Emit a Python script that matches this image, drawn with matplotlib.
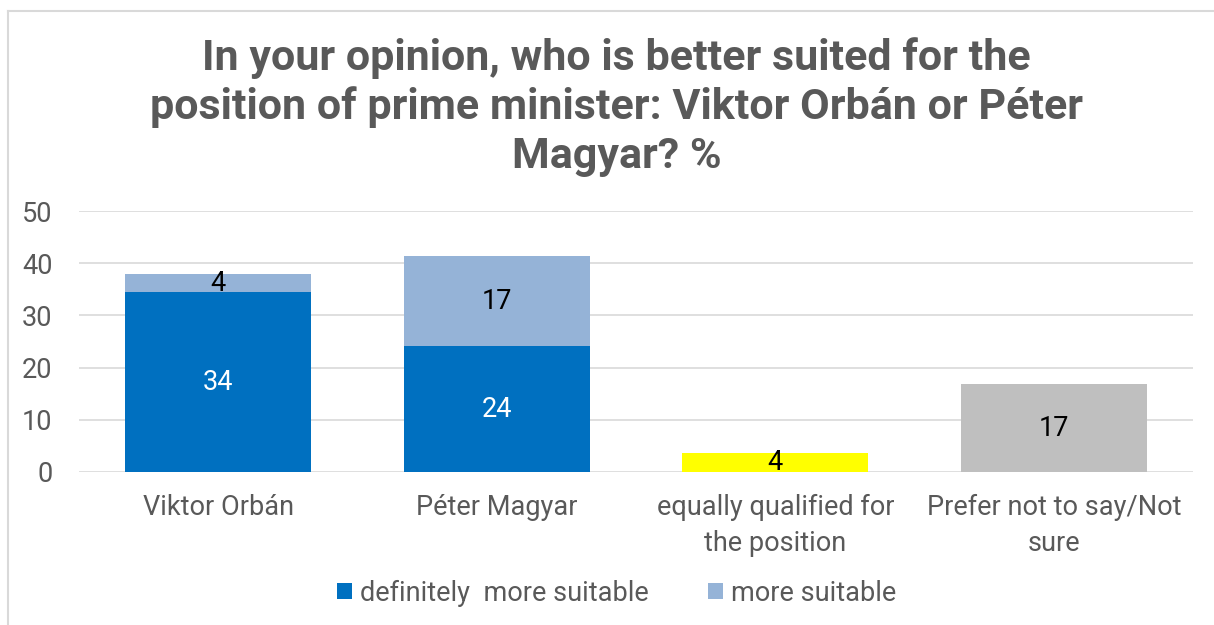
import matplotlib.pyplot as plt
from matplotlib.lines import Line2D
import numpy as np

categories = ["Viktor Orbán", "Péter Magyar",
              "equally qualified for\nthe position", "Prefer not to say/Not\nsure"]
definitely = [34.4, 24.1, 0, 0]
more = [3.6, 17.2, 0, 0]
other = [0, 0, 3.6, 16.8]
def_labels = ["34", "24", "", ""]
more_labels = ["4", "17", "", ""]
other_labels = ["", "", "4", "17"]
other_colors = ["none", "none", "#FFFF00", "#BFBFBF"]

title = "In your opinion, who is better suited for the\nposition of prime minister: Viktor Orbán or Péter\nMagyar? %"

plt.rcParams["font.family"] = ["Roboto", "DejaVu Sans"]
text_color = "#595959"
fs = 19.5

fig = plt.figure(figsize=(12.14, 6.25), dpi=100)
# chart frame: only top and left edges are visible in the picture
fig.lines.append(Line2D([8 / 1214, 8 / 1214], [0, 1 - 11 / 625], transform=fig.transFigure,
                        color="#D9D9D9", linewidth=1.5))
fig.lines.append(Line2D([8 / 1214, 1], [1 - 11 / 625, 1 - 11 / 625], transform=fig.transFigure,
                        color="#D9D9D9", linewidth=1.5))

ax = fig.add_axes([0.0651, 0.2448, 0.9176, 0.4176])

x = np.arange(len(categories))
w = 0.667
b1 = ax.bar(x, definitely, w, color="#0070C0", label="definitely  more suitable", zorder=3)
b2 = ax.bar(x, more, w, bottom=definitely, color="#95B3D7", label="more suitable", zorder=3)
b3 = ax.bar(x, other, w, color=other_colors, zorder=3)

for i in range(len(categories)):
    if def_labels[i]:
        ax.text(x[i], definitely[i] / 2, def_labels[i], ha="center", va="center",
                color="white", fontsize=fs, zorder=4)
    if more_labels[i]:
        ax.text(x[i], definitely[i] + more[i] / 2, more_labels[i], ha="center", va="center",
                color="black", fontsize=fs, zorder=4)
    if other_labels[i]:
        ax.text(x[i], other[i] / 2, other_labels[i], ha="center", va="center",
                color="black", fontsize=fs, zorder=4)

ax.set_xlim(-0.5, 3.5)
ax.set_ylim(0, 50)
ax.set_yticks([0, 10, 20, 30, 40, 50])
ax.yaxis.grid(True, color="#D9D9D9", linewidth=1.2, zorder=0)
ax.set_axisbelow(True)
for s in ax.spines.values():
    s.set_visible(False)
ax.tick_params(axis="both", length=0, labelsize=fs, labelcolor=text_color)
ax.tick_params(axis="y", pad=19)
ax.tick_params(axis="x", pad=16)
ax.set_xticks(x)
ax.set_xticklabels(categories, linespacing=1.4)

fig.text(0.508, 0.829, title, ha="center", va="center", fontsize=31,
         fontweight="bold", color=text_color, linespacing=1.24)

leg = fig.legend(handles=[b1, b2], loc="center", bbox_to_anchor=(0.508, 0.051), ncol=2,
                 frameon=False, fontsize=fs, handlelength=0.55, handleheight=0.55,
                 handletextpad=0.3, columnspacing=2.2)
for t in leg.get_texts():
    t.set_color(text_color)

fig.savefig("out.png", dpi=100)
